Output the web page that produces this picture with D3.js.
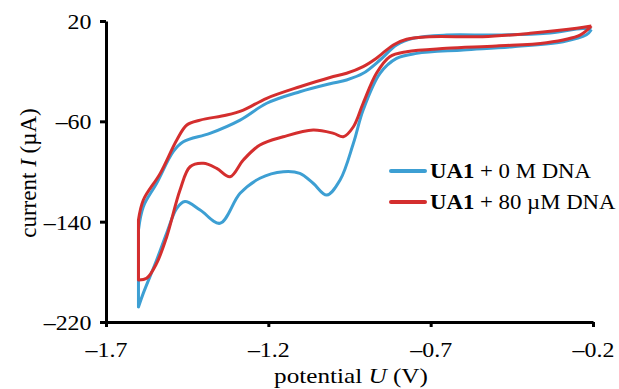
<!DOCTYPE html>
<html><head><meta charset="utf-8">
<script src="https://cdn.jsdelivr.net/npm/d3@7"></script>
<style>body{margin:0;background:#fff}svg{display:block}text{font-family:"Liberation Serif","Times New Roman",serif;fill:#000}</style>
</head><body><svg id="c" width="619" height="389"></svg>
<script>
// Data (loop order: lower branch right->left, switching vertex, upper branch left->right)
const blueU = [-0.205,-0.22,-0.292,-0.446,-0.600,-0.743,-0.805,-0.856,-0.908,-0.938,-0.979,-1.020,-1.062,-1.103,-1.154,-1.226,-1.287,-1.349,-1.41,-1.457,-1.482,-1.513,-1.544,-1.585,-1.60,
  -1.60,-1.585,-1.544,-1.493,-1.462,-1.38,-1.287,-1.205,-1.103,-1.01,-0.959,-0.908,-0.856,-0.805,-0.754,-0.651,-0.497,-0.343,-0.23,-0.205];
const blueI = [13,9,3.5,-0.5,-3.1,-5.8,-9.8,-21.7,-51,-77.5,-106.8,-118.8,-109.4,-101.5,-100.2,-105.4,-117.4,-141.3,-130.7,-124,-129.4,-149,-170.6,-197,-208,
  -146.7,-128,-109.4,-84.2,-76.3,-69.6,-59,-45.6,-36.4,-30,-27,-21.7,-11.1,0.9,6.2,8.8,8.8,10.2,14,13];
const redU = [-0.205,-0.24,-0.343,-0.497,-0.651,-0.774,-0.826,-0.867,-0.908,-0.938,-0.969,-0.999,-1.062,-1.154,-1.226,-1.277,-1.318,-1.359,-1.40,-1.441,-1.472,-1.513,-1.544,-1.575,-1.60,
  -1.60,-1.585,-1.533,-1.482,-1.451,-1.41,-1.328,-1.277,-1.205,-1.103,-1.01,-0.959,-0.908,-0.867,-0.815,-0.774,-0.702,-0.54,-0.394,-0.25,-0.205];
const redI = [16,8.8,2.7,0.1,-1.8,-4.5,-8.5,-21.7,-45.6,-64.3,-72.3,-69.6,-66.9,-72.3,-78.9,-90.8,-104.2,-97.5,-93.5,-96.2,-114.8,-152,-173.2,-185.2,-186.5,
  -138.7,-122.7,-101.5,-74.9,-62.9,-59,-55,-51,-41.6,-32.4,-25,-21.7,-16.4,-9.7,0.9,5.4,7.5,7.5,10.2,14.2,16];
const vertexIndex = 24; // start of the vertical step at the negative switching potential
const xTicks = [-1.7,-1.2,-0.7,-0.2];
const yTicks = [20,-60,-140,-220];
const seriesNames = ["0 M DNA","80 \u00b5M DNA"];
const seriesColors = ["#3d9fd3","#d42e2e"];

const SX = 1.14; // horizontal stretch of the reference's text
const svg = d3.select("#c");
const x = d3.scaleLinear().domain([-1.7,-0.2]).range([106,593]);
const y = d3.scaleLinear().domain([-220,20]).range([322,21]);
const fmt = d => (d<0?"\u2013":"")+Math.abs(d);

const xa = svg.append("g").attr("transform","translate(0,322)")
  .call(d3.axisBottom(x).tickValues(xTicks).tickFormat(fmt).tickSize(5).tickSizeOuter(0));
const ya = svg.append("g").attr("transform","translate(106,0)")
  .call(d3.axisLeft(y).tickValues(yTicks).tickFormat(fmt).tickSize(6).tickSizeOuter(0));
[xa,ya].forEach(a=>{
  a.select(".domain").attr("stroke","#000").attr("stroke-width",3);
  a.selectAll(".tick line").attr("stroke","#000").attr("stroke-width",3);
  a.selectAll(".tick text").style("font-size","21px").attr("fill","#000");
});
xa.selectAll(".tick text").attr("dy","0").attr("y",35).attr("transform",`scale(${SX},1)`);
ya.selectAll(".tick text").attr("x",-14.5/SX).attr("dy","0.35em").attr("transform",`scale(${SX},1)`);

const curved = d3.line().x(d=>x(d[0])).y(d=>y(d[1])).curve(d3.curveCatmullRom.alpha(0.5));
const straight = d3.line().x(d=>x(d[0])).y(d=>y(d[1]));
[[blueU,blueI],[redU,redI]].forEach((s,i)=>{
  const pts = s[0].map((u,k)=>[u,s[1][k]]);
  const d = curved(pts.slice(0,vertexIndex+1)) +
            straight(pts.slice(vertexIndex,vertexIndex+2)).replace(/^M[^L]*/,"") +
            curved(pts.slice(vertexIndex+1)).replace(/^M[^C]*/,"");
  svg.append("path").attr("d",d).attr("fill","none").attr("stroke",seriesColors[i])
    .attr("stroke-width",3).attr("stroke-linejoin","round");
});

// legend
seriesNames.forEach((n,i)=>{
  const yy = 171 + i*31;
  svg.append("line").attr("x1",391).attr("x2",425).attr("y1",yy).attr("y2",yy)
    .attr("stroke",seriesColors[i]).attr("stroke-width",4).attr("stroke-linecap","round");
  const t = svg.append("text").attr("transform",`translate(430,${yy+7}) scale(${SX},1)`).style("font-size","20px");
  t.append("tspan").attr("font-weight","bold").text("UA1");
  t.append("tspan").text(" + "+n);
});

// axis labels
const xl = svg.append("text").attr("transform","translate(351,383) scale(1.2,1)").attr("text-anchor","middle").style("font-size","21px");
xl.append("tspan").text("potential ");
xl.append("tspan").attr("font-style","italic").text("U");
xl.append("tspan").text(" (V)");
const yl = svg.append("text").attr("transform","translate(36,173) rotate(-90)").attr("text-anchor","middle").style("font-size","23px");
yl.append("tspan").text("current ");
yl.append("tspan").attr("font-style","italic").text("I");
yl.append("tspan").text(" (\u00b5A)");
</script></body></html>
